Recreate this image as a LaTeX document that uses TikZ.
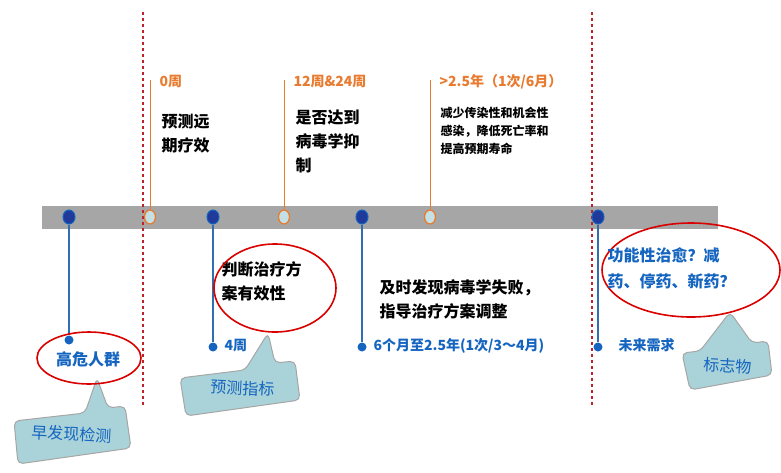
\documentclass[tikz,border=0pt]{standalone}
\usepackage{fontspec}
\setmainfont{Noto Sans CJK SC}
\usetikzlibrary{calc,shapes.geometric}
\definecolor{dblue}{HTML}{1F3A9A}
\definecolor{mblue}{HTML}{1565C0}
\definecolor{stem}{HTML}{2F6FB0}
\definecolor{orng}{HTML}{E87B2F}
\definecolor{teal}{HTML}{A9D3D8}
\definecolor{dred}{HTML}{C0202A}
\tikzset{
 ddot/.style={ellipse,fill=dblue,draw=mblue,line width=1pt,minimum width=12pt,minimum height=14pt,inner sep=0pt},
 odot/.style={ellipse,fill=teal!70!white,draw=orng,line width=1.3pt,minimum width=11pt,minimum height=14pt,inner sep=0pt},
 sdot/.style={circle,fill=mblue,minimum size=9pt,inner sep=0pt},
 btxt/.style={font=\bfseries\fontsize{16}{24}\selectfont,anchor=north west,align=left,text=black},
 otxt/.style={font=\bfseries\fontsize{14}{16}\selectfont,anchor=west,text=orng},
 ltxt/.style={font=\bfseries\fontsize{14}{16}\selectfont,anchor=west,text=mblue},
 ring/.style={draw=red!85!black,line width=1.6pt},
 call/.style={fill=teal,draw=gray!70,line width=1pt,rounded corners=5pt},
 ctxt/.style={text=mblue,font=\fontsize{16}{18}\selectfont,rotate=-3},
}
\begin{document}
\begin{tikzpicture}[x=1pt,y=-1pt]
\useasboundingbox (0,0) rectangle (781,472);
\fill[gray!70] (42,206) rectangle (718,229);
\draw[dred,dashed,line width=1.5pt] (143,12) -- (143,405);
\draw[dred,dashed,line width=1.5pt] (592,12) -- (592,405);
\coordinate (o1t) at (150,80); \coordinate (o2t) at (284,80); \coordinate (o3t) at (430,80);
\node[odot] (o1) at (150,217) {};
\node[odot] (o2) at (284,217) {};
\node[odot] (o3) at (430,217) {};
\draw[orng,line width=1pt] (o1) -- (o1t); \draw[orng,line width=1pt] (o2) -- (o2t); \draw[orng,line width=1pt] (o3) -- (o3t);
\node[otxt] (l0) at (156,82) {0周};
\node[otxt] (l12) at (290,82) {12周\&24周};
\node[otxt] (l25) at (436,82) {>2.5年（1次/6月）};
\node[btxt] (t1) at (158,110) {预测远\\期疗效};
\node[btxt] (t2) at (292,106) {是否达到\\病毒学抑\\制};
\node[btxt,font=\bfseries\fontsize{12}{18}\selectfont] (t3) at (437,104) {减少传染性和机会性\\感染，降低死亡率和\\提高预期寿命};
\node[ddot] (b1) at (69,217) {};
\node[ddot] (b2) at (213,217) {};
\node[ddot] (b3) at (362,217) {};
\node[ddot] (b4) at (598,217) {};
\node[sdot] (s1) at (69,340) {};
\node[sdot] (s2) at (213,347) {};
\node[sdot] (s3) at (362,347) {};
\node[sdot] (s4) at (598,347) {};
\foreach \a/\b in {b1/s1,b2/s2,b3/s3,b4/s4} \draw[stem,line width=1.3pt] (\a) -- (\b);
\node[ltxt] (w4) at (221,346) {4周};
\node[ltxt] (w6) at (370,346) {6个月至2.5年(1次/3～4月)};
\node[ltxt] (wf) at (615,345) {未来需求};
\node[btxt] (t4) at (218,258) {判断治疗方\\案有效性};
\node[btxt] (t5) at (376,276) {及时发现病毒学失败，\\指导治疗方案调整};
\draw[call] (14,421) -- (85,413) -- (97,378) -- (108,408) -- (125,406) -- (131,448) -- (18,464) -- cycle;
\node[ctxt] (c1) at (72,434) {早发现检测};
\draw[call] (180,378) -- (245,370) -- (268,333) -- (275,363) -- (295,361) -- (300,400) -- (186,416) -- cycle;
\node[ctxt] (c2) at (243,388) {预测指标};
\draw[call] (682,353) -- (700,351) -- (730,312) -- (752,343) -- (768,341) -- (772,375) -- (690,390) -- cycle;
\node[ctxt] (c3) at (728,366) {标志物};
\node[ellipse,ring,minimum width=104pt,minimum height=52pt] (r1) at (89,358) {};
\node[text=mblue,font=\bfseries\fontsize{16}{18}\selectfont] (h1) at (88,359) {高危人群};
\node[ellipse,ring,minimum width=122pt,minimum height=88pt] (r2) at (275,288) {};
\node[ellipse,ring,minimum width=178pt,minimum height=94pt] (r3) at (691,270) {};
\node[anchor=north west,align=left,text=mblue,font=\bfseries\fontsize{16}{26}\selectfont] (h3) at (604,244) {功能性治愈？减\\药、停药、新药？};
\end{tikzpicture}
\end{document}
